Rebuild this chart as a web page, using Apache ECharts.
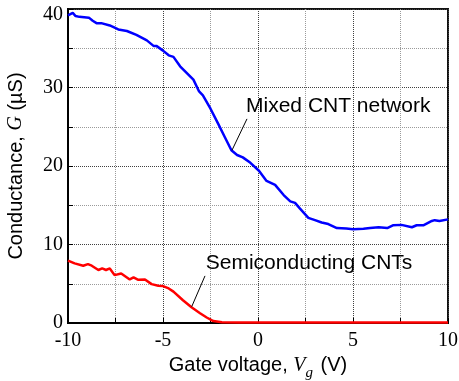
<!DOCTYPE html>
<html>
<head>
<meta charset="utf-8">
<script src="https://cdn.jsdelivr.net/npm/echarts@6/dist/echarts.min.js"></script>
<style>
  html, body { margin: 0; padding: 0; background: #fff; }
  #chart { width: 459px; height: 381px; }
</style>
</head>
<body>
<div id="chart"></div>
<script>
// Mixed CNT network: gate voltage (V) and conductance (µS)
const mixedVg = [-10, -9.75, -9.6, -9.4, -8.9, -8.7, -8.5, -8.25, -7.8, -7.35, -6.9, -6.4, -5.85,
  -5.5, -5.35, -5.0, -4.7, -4.45, -4.1, -3.4, -3.1, -2.9, -2.5, -2.1, -1.75, -1.4, -1.1, -0.8,
  -0.4, 0.05, 0.45, 0.9, 1.35, 1.7, 1.95, 2.2, 2.65, 3.0, 3.35, 3.7, 4.15, 4.65, 5.0, 5.55,
  5.9, 6.35, 6.8, 7.1, 7.55, 8.1, 8.35, 8.7, 9.15, 9.3, 9.55, 10];
const mixedG = [39.2, 39.5, 39.1, 39.0, 38.9, 38.5, 38.2, 38.2, 37.9, 37.4, 37.2, 36.7, 36.0,
  35.3, 35.3, 34.7, 34.1, 33.9, 32.7, 31.0, 29.5, 29.0, 27.3, 25.4, 23.7, 22.0, 21.4, 21.1,
  20.4, 19.4, 18.1, 17.6, 16.3, 15.5, 15.3, 14.6, 13.4, 13.1, 12.8, 12.6, 12.1, 12.05, 11.95, 12.0,
  12.1, 12.2, 12.1, 12.45, 12.5, 12.2, 12.45, 12.45, 13.0, 13.1, 13.0, 13.2];

// Semiconducting CNTs
const semiVg = [-10, -9.65, -9.2, -8.95, -8.75, -8.4, -8.2, -8.0, -7.8, -7.55, -7.2, -6.75, -6.55,
  -6.3, -5.95, -5.6, -5.25, -5.0, -4.7, -4.45, -4.35, -3.95, -3.5, -3.05, -2.7, -2.35, -1.9,
  -1.0, 2.0, 6.0, 10];
const semiG = [7.95, 7.6, 7.3, 7.5, 7.3, 6.75, 6.95, 6.75, 6.95, 6.1, 6.3, 5.55, 5.8,
  5.5, 5.55, 4.95, 4.75, 4.7, 4.4, 4.0, 3.85, 2.9, 2.0, 1.25, 0.7, 0.25, 0.1,
  0.06, 0.06, 0.06, 0.06];

// Axis ticks
const xTicks = [-10, -5, 0, 5, 10];
const yTicks = [0, 10, 20, 30, 40];

// Annotations: label, text anchor [Vg, G], leader line start and end
const mixedNote = { text: 'Mixed CNT network', at: [-0.63, 27.6], from: [-1.37, 22.0], to: [-0.58, 26.0] };
const semiNote = { text: 'Semiconducting CNTs', at: [-2.75, 7.65], from: [-3.49, 2.08], to: [-2.79, 6.0] };

const zip = (xs, ys) => xs.map((x, i) => [x, ys[i]]);

const sans = 'Liberation Sans';
const serif = 'Liberation Serif';

function note(n) {
  return {
    markLine: {
      silent: true,
      symbol: 'none',
      animation: false,
      lineStyle: { color: '#000', width: 1, type: 'solid' },
      label: { show: false },
      data: [[{ coord: n.from }, { coord: n.to }]]
    },
    markPoint: {
      silent: true,
      animation: false,
      symbol: 'circle',
      symbolSize: 0,
      data: [{ coord: n.at }],
      label: {
        show: true,
        position: 'right',
        distance: 0,
        formatter: n.text,
        color: '#000',
        fontFamily: sans,
        fontSize: 21
      }
    }
  };
}

const chart = echarts.init(document.getElementById('chart'), null, { renderer: 'canvas' });

const majorGrid = { show: true, lineStyle: { color: '#404040', type: 'dotted', width: 1 } };
const minorGrid = { show: true, lineStyle: { color: '#9a9a9a', type: 'dotted', width: 1 } };

chart.setOption({
  animation: false,
  backgroundColor: '#fff',
  grid: {
    left: 68, right: 11, top: 9, bottom: 58,
    outerBoundsMode: 'none',
    containLabel: false,
    show: true, borderColor: '#111', borderWidth: 2, backgroundColor: 'transparent'
  },
  xAxis: {
    type: 'value',
    min: xTicks[0], max: xTicks[xTicks.length - 1], interval: 5,
    axisLine: { show: true, onZero: false, lineStyle: { color: '#000', width: 2 } },
    axisTick: { show: true, inside: true, length: 5, lineStyle: { color: '#000' } },
    minorTick: { show: true, splitNumber: 2, length: 5, lineStyle: { color: '#000' } },
    splitLine: majorGrid,
    minorSplitLine: minorGrid,
    axisLabel: {
      color: '#000', fontFamily: serif, fontSize: 20, margin: 8,
      formatter: v => (xTicks.includes(v) ? String(v) : '')
    },
    name: 'Gate voltage, {i|V}{s|g} (V)',
    nameLocation: 'middle',
    nameGap: 22,
    nameTextStyle: {
      color: '#000', fontFamily: sans, fontSize: 20,
      rich: {
        i: { fontFamily: serif, fontStyle: 'italic', fontSize: 20, color: '#000' },
        s: { fontFamily: serif, fontStyle: 'italic', fontSize: 15, color: '#000', padding: [14, 2, 0, 0] }
      }
    }
  },
  yAxis: {
    type: 'value',
    min: yTicks[0], max: yTicks[yTicks.length - 1], interval: 10,
    axisLine: { show: true, onZero: false, lineStyle: { color: '#000', width: 2 } },
    axisTick: { show: true, inside: true, length: 5, lineStyle: { color: '#000' } },
    minorTick: { show: true, splitNumber: 2, length: 5, lineStyle: { color: '#000' } },
    splitLine: majorGrid,
    minorSplitLine: minorGrid,
    axisLabel: {
      color: '#000', fontFamily: serif, fontSize: 20, margin: 5,
      formatter: v => (v === yTicks[yTicks.length - 1] ? '{t|' + v + '}' : String(v)),
      rich: { t: { fontFamily: serif, fontSize: 20, color: '#000', padding: [12, 0, 0, 0] } }
    },
    name: 'Conductance, {i|G} (µS)',
    nameLocation: 'middle',
    nameRotate: 90,
    nameGap: 42,
    nameTextStyle: {
      color: '#000', fontFamily: sans, fontSize: 20,
      rich: {
        i: { fontFamily: serif, fontStyle: 'italic', fontSize: 20, color: '#000' }
      }
    }
  },
  series: [
    Object.assign({
      name: 'Mixed CNT network',
      type: 'line',
      data: zip(mixedVg, mixedG),
      showSymbol: false,
      smooth: false,
      lineStyle: { color: '#0000ff', width: 2.5 },
      itemStyle: { color: '#0000ff' },
      z: 3
    }, note(mixedNote)),
    Object.assign({
      name: 'Semiconducting CNTs',
      type: 'line',
      data: zip(semiVg, semiG),
      showSymbol: false,
      smooth: false,
      lineStyle: { color: '#ff0000', width: 2.5 },
      itemStyle: { color: '#ff0000' },
      z: 3
    }, note(semiNote))
  ]
});
</script>
</body>
</html>
